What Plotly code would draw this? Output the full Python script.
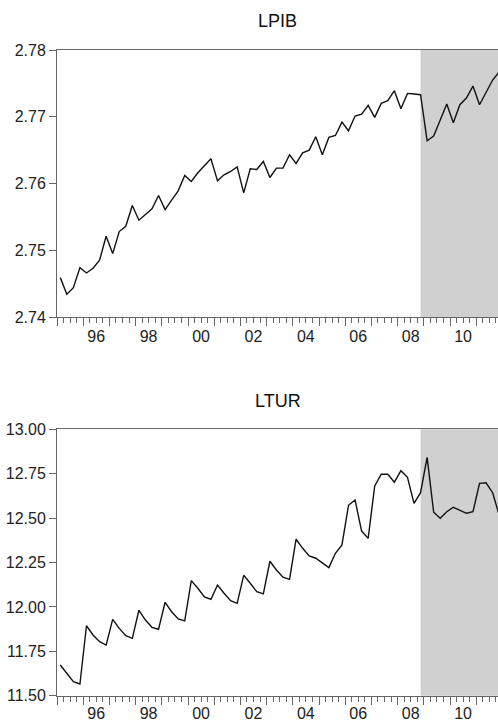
import plotly.graph_objects as go

# ---------------- data ----------------
quarters = [f"{y}Q{q}" for y in range(1995, 2012) for q in range(1, 5)]

lpib = [
    2.7459, 2.7434, 2.7444, 2.7474, 2.7466, 2.7473, 2.7485, 2.7521,
    2.7495, 2.7528, 2.7536, 2.7567, 2.7545, 2.7554, 2.7562, 2.7582,
    2.7561, 2.7575, 2.7589, 2.7612, 2.7603, 2.7616, 2.7626, 2.7637,
    2.7604, 2.7613, 2.7618, 2.7625, 2.7586, 2.7622, 2.7621, 2.7633,
    2.7609, 2.7623, 2.7623, 2.7643, 2.7630, 2.7646, 2.7650, 2.7670,
    2.7643, 2.7669, 2.7672, 2.7692, 2.7679, 2.7701, 2.7704, 2.7717,
    2.7699, 2.7720, 2.7724, 2.7739, 2.7712, 2.7735, 2.7734, 2.7733,
    2.7664, 2.7671, 2.7695, 2.7719, 2.7691, 2.7718, 2.7728, 2.7746,
    2.7718, 2.7737, 2.7755, 2.7767,
]

ltur = [
    11.673, 11.626, 11.579, 11.566, 11.894, 11.842, 11.804, 11.785,
    11.930, 11.879, 11.838, 11.823, 11.981, 11.926, 11.885, 11.874,
    12.026, 11.973, 11.932, 11.921, 12.148, 12.105, 12.056, 12.043,
    12.123, 12.077, 12.035, 12.020, 12.178, 12.133, 12.086, 12.073,
    12.257, 12.208, 12.167, 12.155, 12.381, 12.330, 12.287, 12.274,
    12.245, 12.221, 12.302, 12.349, 12.572, 12.602, 12.427, 12.386,
    12.681, 12.747, 12.747, 12.702, 12.767, 12.730, 12.583, 12.643,
    12.842, 12.533, 12.499, 12.536, 12.561, 12.544, 12.527, 12.536,
    12.696, 12.699, 12.643, 12.517,
]

titles = ["LPIB", "LTUR"]
years = list(range(1995, 2012))
year_labels = ["" if y % 2 else f"{y % 100:02d}" for y in years]
lpib_ticks = [2.74, 2.75, 2.76, 2.77, 2.78]
ltur_ticks = [11.50, 11.75, 12.00, 12.25, 12.50, 12.75, 13.00]
shade_start = "2008Q4"


def qpos(label):
    return int(label[:4]) + (int(label[-1]) - 0.5) / 4


xq = [qpos(q) for q in quarters]
minor_vals = [y + k / 4 for y in years for k in (1, 2, 3)]

# ---------------- figure ----------------
W, H = 498, 722
fig = go.Figure()
fig.add_trace(go.Scatter(x=xq, y=lpib, mode="lines", xaxis="x", yaxis="y",
                         line=dict(color="#111111", width=1.4), showlegend=False,
                         hoverinfo="skip"))
fig.add_trace(go.Scatter(x=xq, y=ltur, mode="lines", xaxis="x2", yaxis="y2",
                         line=dict(color="#111111", width=1.4), showlegend=False,
                         hoverinfo="skip"))

top_dom = [1 - 317 / H, 1 - 50 / H]
bot_dom = [1 - 695.7 / H, 1 - 429.3 / H]

font = dict(family="Liberation Sans, Arial, sans-serif", size=16, color="#222")
axcol = "#666"

xcommon = dict(
    range=[1995, 2011.83], tickmode="array", tickvals=years, ticktext=year_labels,
    ticks="outside", ticklen=8, tickcolor=axcol, tickwidth=1,
    ticklabelshift=13, automargin=False,
    minor=dict(tickmode="array", tickvals=minor_vals, ticks="outside", ticklen=5,
               tickcolor=axcol, tickwidth=1, showgrid=False),
    showline=True, linecolor=axcol, linewidth=1, mirror=True,
    showgrid=False, zeroline=False, tickfont=font, fixedrange=True,
)
ycommon = dict(
    ticks="outside", ticklen=7, tickcolor=axcol, tickwidth=1, automargin=False,
    showline=True, linecolor=axcol, linewidth=1, mirror=False,
    showgrid=False, zeroline=False, tickfont=font, tickformat=".2f", fixedrange=True,
)

fig.update_layout(
    template="none",
    width=W, height=H, margin=dict(l=57, r=0, t=0, b=0, pad=0),
    paper_bgcolor="white", plot_bgcolor="white", hovermode=False,
    xaxis=dict(xcommon, domain=[0, 1], anchor="y", ticklabelstandoff=-3),
    xaxis2=dict(xcommon, domain=[0, 1], anchor="y2", ticklabelstandoff=-5),
    yaxis=dict(ycommon, domain=top_dom, range=[2.74, 2.78], anchor="x",
               tickmode="array", tickvals=lpib_ticks),
    yaxis2=dict(ycommon, domain=bot_dom, range=[11.5, 13.0], anchor="x2",
                tickmode="array", tickvals=ltur_ticks),
)

for xr, yr in (("x", "y"), ("x2", "y2")):
    fig.add_shape(type="rect", xref=xr, yref=f"{yr} domain",
                  x0=qpos(shade_start), x1=2011.83, y0=0, y1=1,
                  fillcolor="#d0d0d0", line=dict(width=0), layer="below")

for t, dom in zip(titles, (top_dom, bot_dom)):
    fig.add_annotation(text=t, xref="paper", yref="paper", x=0.5, y=dom[1] + 28.5 / H,
                       xanchor="center", yanchor="middle", showarrow=False,
                       font=dict(family="Liberation Sans, Arial, sans-serif", size=18, color="#111"))

# remove the browser's default 8px page margin so the figure fills the window
page_css = ("document.body.style.margin='0';"
            "document.body.style.overflow='hidden';"
            "document.documentElement.style.overflow='hidden';")
fig.write_html("out.html", post_script=page_css, config={"displayModeBar": False})
